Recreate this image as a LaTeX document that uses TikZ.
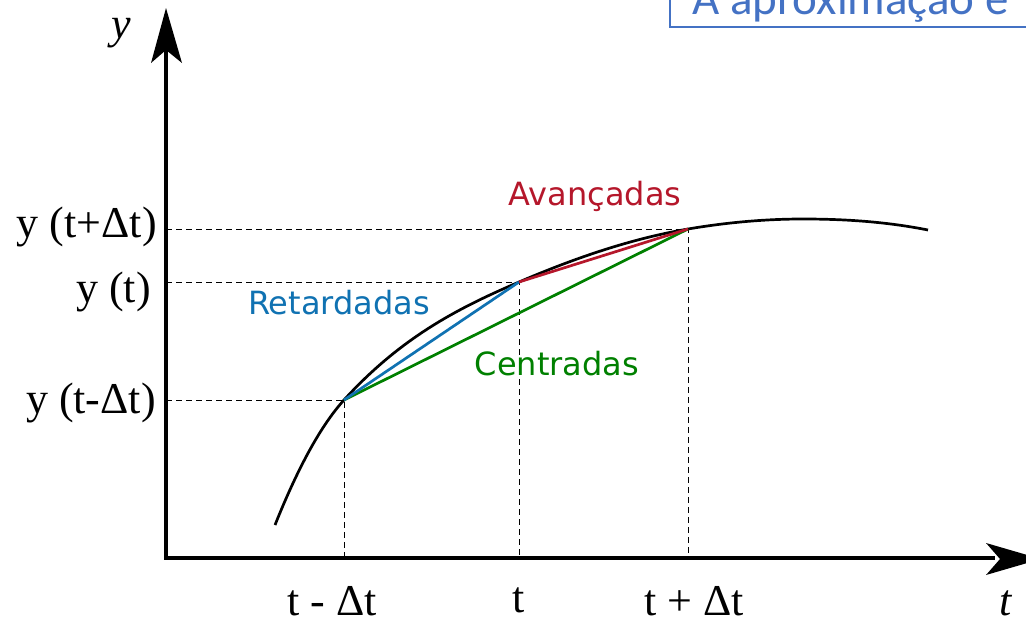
\documentclass[tikz,border=0pt]{standalone}
\usepackage{fontspec}
\setmainfont{Liberation Serif}
\newfontfamily\dejavu{DejaVu Sans}
\newfontfamily\carlito{Carlito}
\begin{document}
\begin{tikzpicture}[x=1pt,y=-1pt,
  axis/.style={line width=3.5pt},
  guide/.style={line width=1pt,dash pattern=on 6pt off 4pt},
  curvestyle/.style={line width=2.7pt},
  secant/.style={line width=2.7pt},
  serif/.style={font=\fontsize{44}{48}\selectfont},
  sanslab/.style={font=\dejavu\fontsize{32}{36}\selectfont},
  head/.style={fill=black}]
\definecolor{myred}{RGB}{181,23,43}
\definecolor{myblue}{RGB}{16,114,178}
\definecolor{mygreen}{RGB}{0,128,0}
\definecolor{boxblue}{RGB}{68,114,196}
\useasboundingbox (0,0) rectangle (1026,621);
% frame of heading box
\draw[boxblue,line width=1.5pt] (670,-20) rectangle (1040,27);
\node[anchor=base west,text=boxblue,inner sep=0pt,font=\carlito\fontsize{47}{50}\selectfont] (title) at (692,15) {A aproximação é};
% named points
\coordinate (O) at (166,558);
\coordinate (Ytop) at (166,40);
\coordinate (Xend) at (995,558);
\coordinate (P1) at (344,400);
\coordinate (P2) at (519,282);
\coordinate (P3) at (688,229);
\coordinate (A1) at (166,400);
\coordinate (A2) at (166,282);
\coordinate (A3) at (166,229);
\coordinate (B1) at (344,558);
\coordinate (B2) at (519,558);
\coordinate (B3) at (688,558);
\coordinate (C0) at (275,525);
\coordinate (Cpk) at (803,219);
\coordinate (C9) at (928,230);
% axes
\draw[axis] (O) -- (Ytop);
\draw[axis] (164.25,558) -- (Xend);
\fill[head] (166,8) -- (182,63) -- (166,50) -- (151,63) -- cycle;
\fill[head] (1041,559) -- (986,575) -- (1000,559) -- (986,543) -- cycle;
% guides
\draw[guide] (A1) -- (P1) -- (B1);
\draw[guide] (A2) -- (P2) -- (B2);
\draw[guide] (A3) -- (P3) -- (B3);
% curve
\draw[curvestyle] (C0) .. controls (298,467.5) and (321,425.3) .. (P1)
  .. controls (402.3,335.9) and (460.7,307.1) .. (P2)
  .. controls (575.3,257.8) and (631.7,238.6) .. (P3)
  .. controls (726.3,222.5) and (764.7,219) .. (Cpk)
  .. controls (844.7,219) and (886.3,221.7) .. (C9);
% secants
\draw[secant,mygreen] (P1) -- (P3);
\draw[secant,myblue] (P1) -- (P2);
\draw[secant,myred] (P2) -- (P3);
% labels
\node[serif,anchor=east,inner sep=0pt] (l3) at (157,227) {y (t+Δt)};
\node[serif,anchor=east,inner sep=0pt] (l2) at (151,292) {y (t)};
\node[serif,anchor=east,inner sep=0pt] (l1) at (156,403) {y (t-Δt)};
\node[serif,inner sep=0pt] (t1) at (332,601) {t - Δt};
\node[serif,inner sep=0pt] (t2) at (519,600) {t};
\node[serif,inner sep=0pt] (t3) at (694,601) {t + Δt};
\node[serif,inner sep=0pt] (yl) at (121,33) {\itshape y};
\node[serif,inner sep=0pt] (tl) at (1006,603) {\itshape t};
\node[sanslab,text=myred,inner sep=0pt] (av) at (595,196) {Avançadas};
\node[sanslab,text=myblue,inner sep=0pt] (re) at (339,303) {Retardadas};
\node[sanslab,text=mygreen,inner sep=0pt] (ce) at (557,364) {Centradas};
\end{tikzpicture}
\end{document}
